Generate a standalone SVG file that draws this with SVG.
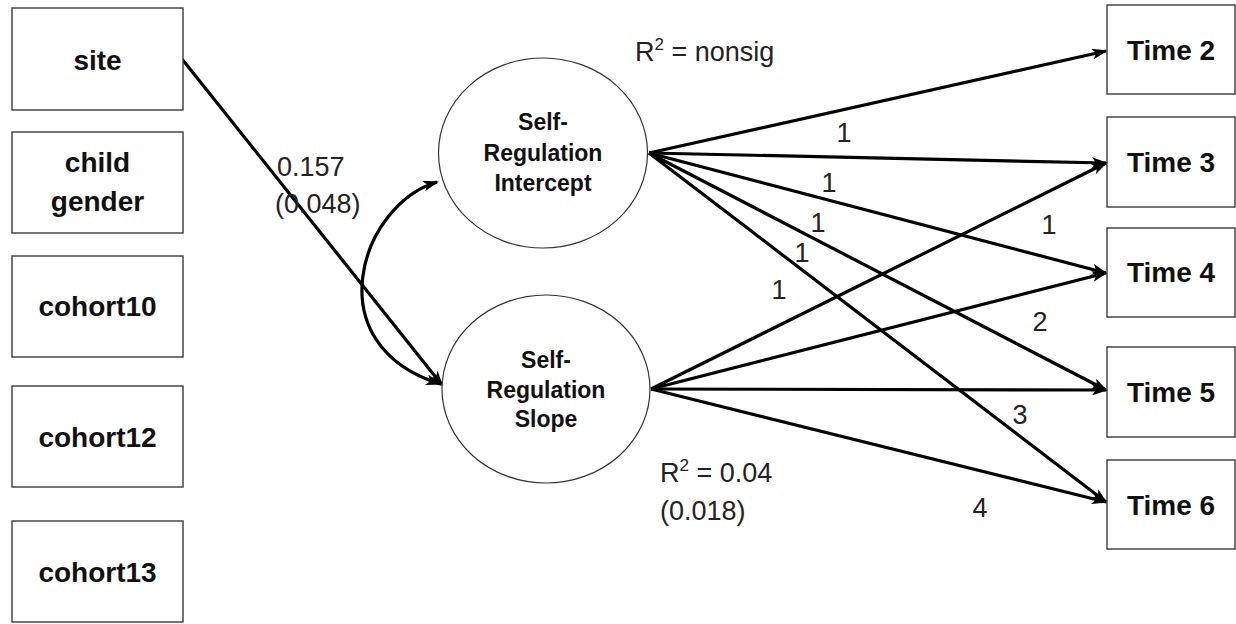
<svg xmlns="http://www.w3.org/2000/svg" width="1236" height="624" viewBox="0 0 1236 624">
<style>
.box{fill:#fff;stroke:#3a3a3a;stroke-width:1.4}
.ell{fill:#fff;stroke:#333;stroke-width:1.2}
.bt{font-family:"Liberation Sans",Arial,sans-serif;font-weight:bold;font-size:28px;fill:#111;text-anchor:middle}
.et{font-family:"Liberation Sans",Arial,sans-serif;font-weight:bold;font-size:23px;fill:#111;text-anchor:middle}
.lb{font-family:"Liberation Sans",Arial,sans-serif;font-size:27px;fill:#222}
.num{font-family:"Liberation Sans",Arial,sans-serif;font-size:27px;fill:#222;text-anchor:middle}
.ln{fill:none;stroke:#000;stroke-width:3.2}
</style>
<defs>
<marker id="ah" viewBox="0 0 16 11" refX="14" refY="5.5" markerWidth="16" markerHeight="11" markerUnits="userSpaceOnUse" orient="auto-start-reverse">
<path d="M0,0 L16,5.5 L0,11 L4,5.5 z" fill="#000"/>
</marker>
</defs>
<g id="connectors">
<line class="ln" x1="182" y1="59" x2="442" y2="385" marker-end="url(#ah)"/>
<path class="ln" d="M437 182 C360 205 315 345 440 384" marker-start="url(#ah)" marker-end="url(#ah)"/>
<line class="ln" x1="649" y1="153" x2="1106" y2="51" marker-end="url(#ah)"/>
<line class="ln" x1="649" y1="153" x2="1106" y2="163" marker-end="url(#ah)"/>
<line class="ln" x1="649" y1="153" x2="1106" y2="273" marker-end="url(#ah)"/>
<line class="ln" x1="649" y1="153" x2="1106" y2="390" marker-end="url(#ah)"/>
<line class="ln" x1="649" y1="153" x2="1106" y2="502" marker-end="url(#ah)"/>
<line class="ln" x1="651" y1="389" x2="1106" y2="163" marker-end="url(#ah)"/>
<line class="ln" x1="651" y1="389" x2="1106" y2="273" marker-end="url(#ah)"/>
<line class="ln" x1="651" y1="389" x2="1106" y2="390" marker-end="url(#ah)"/>
<line class="ln" x1="651" y1="389" x2="1106" y2="502" marker-end="url(#ah)"/>
</g>
<g id="site"><rect class="box" x="12" y="8" width="171" height="102"/><text class="bt" x="97.5" y="70">site</text></g>
<g id="child-gender"><rect class="box" x="12" y="132" width="171" height="101"/><text class="bt" x="97.5" y="172">child</text><text class="bt" x="97.5" y="211">gender</text></g>
<g id="cohort10"><rect class="box" x="12" y="256" width="171" height="101"/><text class="bt" x="97.5" y="316">cohort10</text></g>
<g id="cohort12"><rect class="box" x="12" y="386" width="171" height="101"/><text class="bt" x="97.5" y="447">cohort12</text></g>
<g id="cohort13"><rect class="box" x="12" y="521" width="171" height="101"/><text class="bt" x="97.5" y="582">cohort13</text></g>
<g id="intercept"><ellipse class="ell" cx="543" cy="153" rx="104.5" ry="95"/><text class="et" x="543" y="130">Self-</text><text class="et" x="543" y="161">Regulation</text><text class="et" x="543" y="191">Intercept</text></g>
<g id="slope"><ellipse class="ell" cx="546" cy="389" rx="104" ry="94"/><text class="et" x="546" y="368">Self-</text><text class="et" x="546" y="398">Regulation</text><text class="et" x="546" y="427">Slope</text></g>
<g id="time2"><rect class="box" x="1107" y="5" width="128" height="89"/><text class="bt" x="1171" y="60">Time 2</text></g>
<g id="time3"><rect class="box" x="1107" y="117" width="128" height="90"/><text class="bt" x="1171" y="172">Time 3</text></g>
<g id="time4"><rect class="box" x="1107" y="228" width="128" height="89"/><text class="bt" x="1171" y="282">Time 4</text></g>
<g id="time5"><rect class="box" x="1107" y="347" width="128" height="90"/><text class="bt" x="1171" y="402">Time 5</text></g>
<g id="time6"><rect class="box" x="1107" y="460" width="128" height="89"/><text class="bt" x="1171" y="515">Time 6</text></g>
<g id="labels">
<text class="lb" x="277" y="176">0.157</text>
<text class="lb" x="275" y="213">(0.048)</text>
<text class="lb" x="635" y="61">R<tspan font-size="17" dy="-11">2</tspan><tspan dy="11"> = nonsig</tspan></text>
<text class="lb" x="660" y="482">R<tspan font-size="17" dy="-11">2</tspan><tspan dy="11"> = 0.04</tspan></text>
<text class="lb" x="660" y="520">(0.018)</text>
<text class="num" x="844" y="142">1</text>
<text class="num" x="829" y="192">1</text>
<text class="num" x="818" y="232">1</text>
<text class="num" x="802" y="262">1</text>
<text class="num" x="779" y="299">1</text>
<text class="num" x="1049" y="234">1</text>
<text class="num" x="1040" y="331">2</text>
<text class="num" x="1020" y="424">3</text>
<text class="num" x="980" y="517">4</text>
</g>
</svg>
